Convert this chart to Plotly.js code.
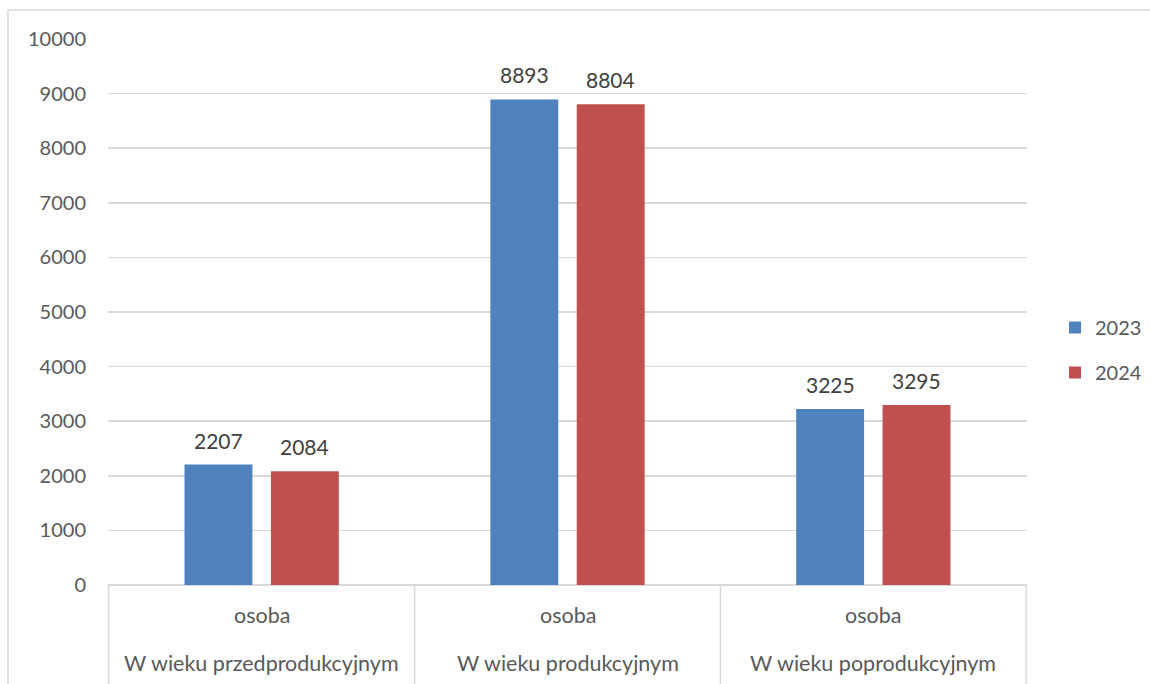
<!DOCTYPE html>
<html><head><meta charset="utf-8">
<script src="https://cdn.plot.ly/plotly-3.0.1.min.js"></script>
<style>body{margin:0;background:#fff}</style>
</head><body>
<div id="chart" style="width:1150px;height:684px"></div>
<script>
const categories = ["W wieku przedprodukcyjnym", "W wieku produkcyjnym", "W wieku poprodukcyjnym"];
const unitLabels = ["osoba", "osoba", "osoba"];
const values2023 = [2207, 8893, 3225];
const values2024 = [2084, 8804, 3295];
const seriesNames = ["2023", "2024"];
const yTicks = [0, 1000, 2000, 3000, 4000, 5000, 6000, 7000, 8000, 9000, 10000];

const FONT = "Lato, 'Open Sans', sans-serif";
const TXT = "#595959";
const LBL = "#404040";
const colors = ["#4F81BD", "#C0504D"];
const series = [values2023, values2024];

const traces = series.map((vals, k) => ({
  type: "bar", name: seriesNames[k], x: categories, y: vals, marker: {color: colors[k]},
  legendgroup: "g" + k, hoverinfo: "y"
}));

const H = 546, W = 919;
const shapes = [
  {type: "rect", xref: "paper", yref: "paper", x0: -100 / W, x1: 2, y0: -1, y1: (585 - 10) / H,
   line: {color: "#d9d9d9", width: 1.5}, fillcolor: "rgba(0,0,0,0)", layer: "below"}
];
for (let i = 0; i <= categories.length; i++) {
  shapes.push({type: "line", xref: "x", yref: "paper", x0: i - 0.5, x1: i - 0.5, y0: 0, y1: -0.2,
    line: {color: "#d9d9d9", width: 1.5}});
}
const annotations = [];
categories.forEach((c, i) => {
  annotations.push({xref: "x", yref: "paper", x: c, y: -30 / H, text: unitLabels[i], showarrow: false,
    yanchor: "middle", font: {family: FONT, size: 21.5, color: TXT}});
  annotations.push({xref: "x", yref: "paper", x: c, y: -78 / H, text: c, showarrow: false,
    yanchor: "middle", font: {family: FONT, size: 21.5, color: TXT}});
  series.forEach((vals, k) => {
    annotations.push({xref: "x", yref: "y", x: c, y: vals[i], text: String(vals[i]), showarrow: false,
      yanchor: "bottom", xshift: (k === 0 ? -43.3 : 43.3), yshift: 10,
      font: {family: FONT, size: 21, color: LBL}});
  });
});

const layout = {
  width: 1150, height: 684,
  margin: {l: 108, r: 123, t: 39, b: 99},
  paper_bgcolor: "#fff", plot_bgcolor: "#fff",
  barmode: "group", bargap: 0.435, bargroupgap: 0.214,
  font: {family: FONT, color: TXT},
  xaxis: {type: "category", showticklabels: false, ticks: "", showgrid: false, zeroline: false,
    showline: false, fixedrange: true},
  yaxis: {range: [0, 10000], tickvals: yTicks, ticktext: yTicks.map(String),
    gridcolor: "#d9d9d9", gridwidth: 1.5, zeroline: true, zerolinecolor: "#d9d9d9", zerolinewidth: 1.5,
    showline: false, ticks: "", ticklabelstandoff: 21,
    tickfont: {family: FONT, size: 20, color: TXT}},
  showlegend: true,
  legend: {xref: "container", yref: "container", x: 1055 / 1150, y: 1 - 350 / 684,
    xanchor: "left", yanchor: "middle", traceorder: "grouped",
    tracegroupgap: 16, font: {family: FONT, size: 20, color: TXT}, itemwidth: 30},
  shapes: shapes, annotations: annotations
};
Plotly.newPlot("chart", traces, layout, {displayModeBar: false, staticPlot: true});
</script>
</body></html>
